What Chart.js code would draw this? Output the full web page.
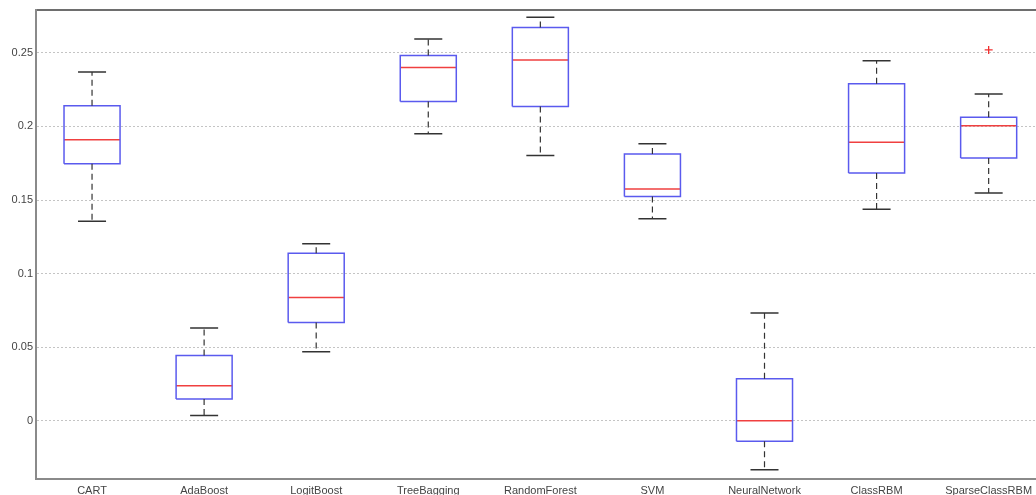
<!DOCTYPE html>
<html>
<head>
<meta charset="utf-8">
<script src="https://cdn.jsdelivr.net/npm/chart.js@4/dist/chart.umd.min.js"></script>
<style>
  html, body { margin: 0; padding: 0; background: #fff; overflow: hidden; }
  #wrap { position: relative; width: 1050px; height: 495px; }
  #c { display: block; width: 1050px; height: 495px; }
</style>
</head>
<body>
<div id="wrap"><canvas id="c" width="1050" height="495"></canvas></div>
<script>
// ---- data ----
const categories = ['CART','AdaBoost','LogitBoost','TreeBagging','RandomForest','SVM','NeuralNetwork','ClassRBM','SparseClassRBM'];
const lowerWhisker = [0.1356, 0.0036, 0.0469, 0.1950, 0.1802, 0.1372, -0.0333, 0.1438, 0.1547];
const q1           = [0.1746, 0.0147, 0.0668, 0.2169, 0.2135, 0.1524, -0.0140, 0.1683, 0.1785];
const medians      = [0.1910, 0.0238, 0.0838, 0.2400, 0.2452, 0.1574,  0.0000, 0.1893, 0.2004];
const q3           = [0.2140, 0.0444, 0.1139, 0.2482, 0.2672, 0.1812,  0.0285, 0.2290, 0.2063];
const upperWhisker = [0.2370, 0.0630, 0.1202, 0.2595, 0.2742, 0.1882,  0.0732, 0.2446, 0.2221];
const outlierCategory = [9];
const outlierValue    = [0.252];
const yTicks = [0, 0.05, 0.1, 0.15, 0.2, 0.25];

// ---- build line segments from the arrays ----
const BOX_HALF = 0.25, CAP_HALF = 0.125;
const gap = (x) => ({x: x, y: null});
const boxPts = [], medPts = [], whiskPts = [], capPts = [];
categories.forEach((c, i) => {
  const x = i + 1;
  boxPts.push({x: x - BOX_HALF, y: q1[i]}, {x: x + BOX_HALF, y: q1[i]},
              {x: x + BOX_HALF, y: q3[i]}, {x: x - BOX_HALF, y: q3[i]},
              {x: x - BOX_HALF, y: q1[i]}, gap(x));
  medPts.push({x: x - BOX_HALF, y: medians[i]}, {x: x + BOX_HALF, y: medians[i]}, gap(x));
  whiskPts.push({x: x, y: q3[i]}, {x: x, y: upperWhisker[i]}, gap(x),
                {x: x, y: q1[i]}, {x: x, y: lowerWhisker[i]}, gap(x));
  capPts.push({x: x - CAP_HALF, y: upperWhisker[i]}, {x: x + CAP_HALF, y: upperWhisker[i]}, gap(x),
              {x: x - CAP_HALF, y: lowerWhisker[i]}, {x: x + CAP_HALF, y: lowerWhisker[i]}, gap(x));
});
const outPts = outlierCategory.map((c, k) => ({x: c, y: outlierValue[k]}));

const lineDs = (data, color, width, dash) => ({
  type: 'scatter', data, showLine: true, spanGaps: false,
  borderColor: color, borderWidth: width, borderDash: dash || [],
  pointRadius: 0, pointHoverRadius: 0, tension: 0, fill: false
});

const font = { family: '"Liberation Sans", Arial, sans-serif', size: 11 };

new Chart(document.getElementById('c'), {
  type: 'scatter',
  data: {
    datasets: [
      lineDs(whiskPts, '#333333', 1.2, [6, 4]),
      lineDs(capPts, '#333333', 1.5),
      lineDs(boxPts, '#5a5aee', 1.5),
      lineDs(medPts, '#f04040', 1.5),
      { type: 'scatter', data: outPts, pointStyle: 'cross', pointRadius: 4,
        borderColor: '#f03030', borderWidth: 1.3, backgroundColor: '#f03030', showLine: false }
    ]
  },
  options: {
    responsive: false,
    maintainAspectRatio: false,
    devicePixelRatio: 1,
    animation: false,
    events: [],
    layout: { padding: 0 },
    plugins: { legend: { display: false }, tooltip: { enabled: false } },
    scales: {
      x: {
        type: 'linear', position: 'bottom', min: 0.5, max: 9.5,
        afterBuildTicks: (s) => { s.ticks = categories.map((c, i) => ({value: i + 1})); },
        afterFit: (s) => { s.height = 16; },
        ticks: { autoSkip: false, maxRotation: 0, padding: 5, color: '#444',
                 font, callback: (v) => categories[v - 1] },
        grid: { display: false, drawTicks: false },
        border: { display: true, color: '#8a8a8a', width: 2 }
      },
      xTop: {
        type: 'linear', position: 'top', min: 0.5, max: 9.5,
        afterFit: (s) => { s.height = 9; },
        ticks: { display: false },
        grid: { display: false, drawTicks: false },
        border: { display: true, color: '#6e6e6e', width: 2 }
      },
      y: {
        type: 'linear', position: 'left', min: -0.0396, max: 0.2794,
        afterBuildTicks: (s) => { s.ticks = yTicks.map(v => ({value: v})); },
        afterFit: (s) => { s.width = 36; },
        ticks: { padding: 3, color: '#444', font, callback: (v) => String(+v.toFixed(2)) },
        grid: { display: true, drawTicks: false, color: '#c4c4c4', lineWidth: 1 },
        border: { display: true, color: '#8a8a8a', width: 2, dash: [2, 2] }
      }
    }
  }
});
</script>
</body>
</html>
